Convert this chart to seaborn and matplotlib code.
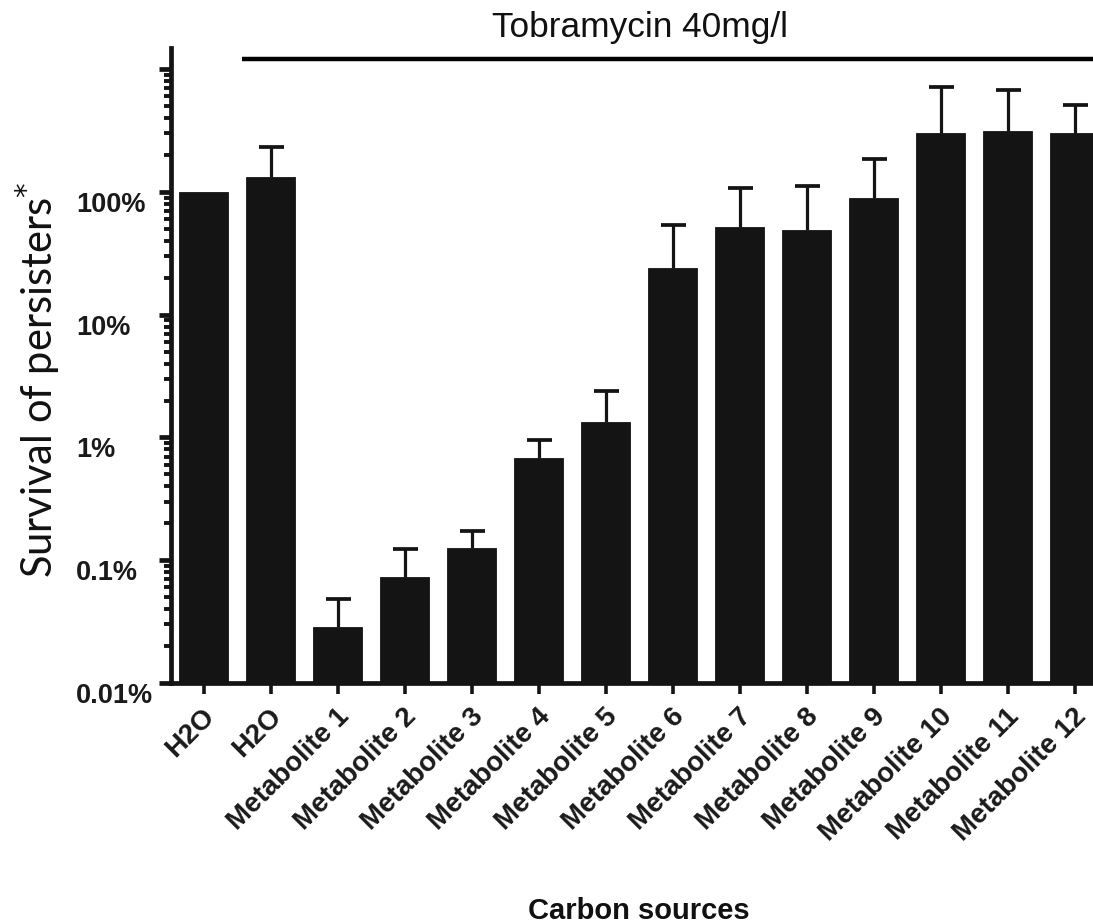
import numpy as np
import pandas as pd
import matplotlib
matplotlib.use("Agg")
import matplotlib.pyplot as plt
import matplotlib.ticker as mticker
import matplotlib.transforms as mtrans
import seaborn as sns

# ---- data ----
categories = ["H2O", "H2O", "Metabolite 1", "Metabolite 2", "Metabolite 3",
              "Metabolite 4", "Metabolite 5", "Metabolite 6", "Metabolite 7",
              "Metabolite 8", "Metabolite 9", "Metabolite 10", "Metabolite 11",
              "Metabolite 12"]
survival_pct = [100, 132, 0.0286, 0.073, 0.126, 0.681, 1.34, 24.0, 51.9,
                49.0, 89.0, 302, 314, 302]
upper_pct = [np.nan, 233, 0.0483, 0.1235, 0.173, 0.955, 2.39, 53.9, 108,
             112, 186, 716, 678, 511]
y_tick_values = [0.01, 0.1, 1, 10, 100, 1000]
y_tick_labels = ["0.01%", "0.1%", "1%", "10%", "100%", ""]
treatment_label = "Tobramycin 40mg/l"
treatment_level = 1211  # height of the treatment bracket line (%)
treatment_start = 0.567  # x position where the bracket starts

sns.set_theme(style="ticks")
plt.rcParams["font.family"] = ["Liberation Sans", "DejaVu Sans"]

W, H = 1093, 924
fig = plt.figure(figsize=(W / 100, H / 100), dpi=100)
ax = fig.add_axes([171 / W, 1 - 683 / H, 1 - 171 / W, (683 - 48) / H])

df = pd.DataFrame({"slot": [f"c{i}" for i in range(len(categories))],
                   "survival": survival_pct})
bar_color = "#141414"
sns.barplot(data=df, x="slot", y="survival", color=bar_color, saturation=1,
            width=0.73, edgecolor=bar_color, linewidth=0.6, errorbar=None,
            ax=ax, zorder=3)

ax.set_yscale("log")
ax.set_ylim(0.01, 1489)
ax.set_xlim(-0.49, 13.27)

# upper-only error bars: stems behind bars, caps on top
vals = np.array(survival_pct, dtype=float)
ups = np.array(upper_pct, dtype=float)
mask = ~np.isnan(ups)
xpos = np.arange(len(categories))[mask]
ax.vlines(xpos, vals[mask], ups[mask], color=bar_color, lw=2.3, zorder=2)
ax.plot(xpos, ups[mask], ls="none", marker="_", markersize=18,
        markeredgewidth=2.7, color=bar_color, zorder=2)

# spines
sns.despine(ax=ax)
for s in ["left", "bottom"]:
    ax.spines[s].set_linewidth(3.4)
    ax.spines[s].set_color(bar_color)

# y ticks
ax.yaxis.set_major_locator(mticker.FixedLocator(y_tick_values))
ax.yaxis.set_major_formatter(mticker.FixedFormatter(y_tick_labels))
ax.yaxis.set_minor_locator(mticker.LogLocator(base=10, subs=np.arange(2, 10), numticks=20))
ax.yaxis.set_minor_formatter(mticker.NullFormatter())
ax.tick_params(axis="y", which="major", length=8.5, width=3.4, color=bar_color,
               pad=60, labelsize=19.5)
ax.tick_params(axis="y", which="minor", length=5, width=2.8, color=bar_color)
for lab in ax.get_yticklabels():
    lab.set_horizontalalignment("left")
    lab.set_verticalalignment("top")
    lab.set_fontweight("bold")
    lab.set_color("#1a1a1a")

# x ticks
ax.set_xticks(range(len(categories)))
ax.set_xticklabels(categories, rotation=45, ha="right", rotation_mode="anchor",
                   fontsize=20, fontweight="bold", color="#1a1a1a")
ax.tick_params(axis="x", which="major", length=8, width=2.6, color=bar_color, pad=7)
offset = mtrans.ScaledTranslation(-2 / 100, 0, fig.dpi_scale_trans)
for lab in ax.get_xticklabels():
    lab.set_transform(lab.get_transform() + offset)
ax.set_xlabel("")
ax.set_ylabel("")

# treatment bracket and label
ax.plot([treatment_start, 13.6], [treatment_level, treatment_level], color="black",
        lw=3.2, clip_on=False, solid_capstyle="butt")
fig.text(640 / W, 1 - 37 / H, treatment_label, ha="center", va="baseline",
         fontsize=25.4, color="#111111")

# axis titles
fig.text(37 / W, 1 - 380 / H, "Survival of persisters$^{*}$", rotation=90,
         ha="center", va="center", fontsize=30, family=["Lato", "DejaVu Sans"],
         color="#111111")
fig.text(639 / W, 1 - 919 / H, "Carbon sources", ha="center", va="baseline",
         fontsize=21, fontweight="bold", color="#111111")

fig.savefig("out.png", dpi=100)
